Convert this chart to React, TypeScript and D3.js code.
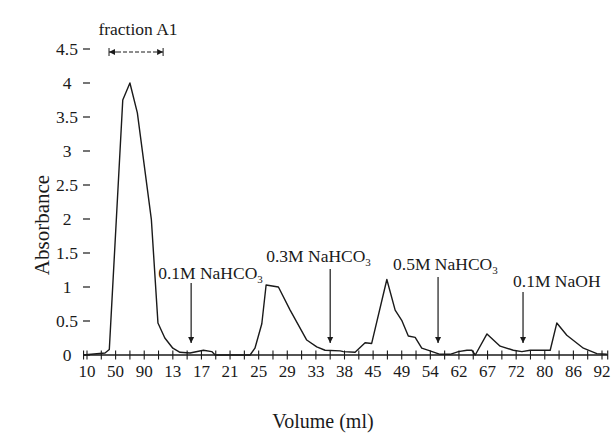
import React from "react";
import * as d3 from "d3";

// x tick labels (as printed on the original figure)
const xLabels = ["10", "50", "90", "13", "17", "21", "25", "29", "33", "38", "45", "49", "54", "62", "67", "72", "80", "86", "92"];
const yTicks = [0, 0.5, 1, 1.5, 2, 2.5, 3, 3.5, 4, 4.5];

// elution profile: position in label units, absorbance
const curveX = [-0.14, 0.63, 0.78, 1.25, 1.5, 1.76, 2.25, 2.48, 2.72, 3.0, 3.25, 3.6, 4.07, 4.36, 4.48, 5.7, 5.87, 6.11, 6.26, 6.69, 7.1, 7.68, 8.03, 8.32, 8.85, 8.96, 9.37, 9.72, 9.95, 10.48, 10.77, 11.0, 11.23, 11.47, 11.7, 11.99, 12.34, 12.69, 12.98, 13.28, 13.45, 13.57, 13.98, 14.44, 14.9, 15.2, 15.49, 16.19, 16.42, 16.77, 17.35, 17.82, 18.17];
const curveY = [0.0, 0.03, 0.08, 3.75, 4.0, 3.56, 1.99, 0.47, 0.25, 0.1, 0.04, 0.03, 0.07, 0.05, 0.0, 0.0, 0.1, 0.46, 1.03, 1.0, 0.66, 0.22, 0.12, 0.07, 0.06, 0.05, 0.04, 0.18, 0.17, 1.11, 0.66, 0.51, 0.28, 0.26, 0.1, 0.06, 0.01, 0.01, 0.05, 0.07, 0.07, 0.0, 0.31, 0.13, 0.07, 0.05, 0.07, 0.07, 0.47, 0.29, 0.1, 0.02, 0.01];

// eluent changes
const eluents = ["0.1M NaHCO", "0.3M NaHCO", "0.5M NaHCO", "0.1M NaOH"];
const eluentSub = ["3", "3", "3", ""];
const eluentAt = [3.64, 8.5, 12.27, 15.24];

const fractionLabel = "fraction A1";
const fractionRange = [0.77, 2.66];

// layout only (text left offset from arrow, text baseline, arrow top)
const eluentLayout = [
  { dx: -33, ty: 279, ay: 283 },
  { dx: -64, ty: 262, ay: 269 },
  { dx: -45, ty: 270, ay: 277 },
  { dx: -10, ty: 287, ay: 292 },
];

const W = 611;
const H = 433;
const ink = "#1a1a1a";
const font = "'Liberation Serif', 'Times New Roman', serif";

export default function App() {
  const x = d3.scaleLinear().domain([0, 18]).range([87, 602]);
  const y = d3.scaleLinear().domain([0, 4.5]).range([355, 49]);
  const pts: [number, number][] = curveX.map((v, i) => [v, curveY[i]]);
  const line = d3
    .line<[number, number]>()
    .x((d) => x(d[0]))
    .y((d) => y(d[1]));
  const halfTicks = d3.range(0, 18.01, 0.5);
  const y0 = y(0);

  return (
    <svg width={W} height={H} style={{ position: "absolute", left: 0, top: 0, background: "#fff" }} fontFamily={font}>
      <defs>
        <marker id="ah" viewBox="0 0 10 10" refX="10" refY="5" markerWidth="6" markerHeight="8" orient="auto" markerUnits="userSpaceOnUse">
          <path d="M0,0 L10,5 L0,10 z" fill={ink} />
        </marker>
      </defs>

      {/* x axis */}
      <line x1={83} x2={608} y1={y0} y2={y0} stroke={ink} strokeWidth={1.3} />
      {halfTicks.concat([-0.12, 18.2]).map((t) => (
        <line key={t} x1={x(t)} x2={x(t)} y1={y0 - 4.5} y2={y0 + 4.5} stroke={ink} strokeWidth={1.1} />
      ))}
      {xLabels.map((l, i) => (
        <text key={i} x={x(i)} y={377} textAnchor="middle" fontSize={17} fill={ink}>
          {l}
        </text>
      ))}

      {/* y ticks */}
      {yTicks.map((t) => (
        <g key={t}>
          <line x1={83} x2={90} y1={y(t)} y2={y(t)} stroke={ink} strokeWidth={1.2} />
          <text x={67} y={y(t)} dy="0.35em" textAnchor="middle" fontSize={17.5} fill={ink}>
            {t}
          </text>
        </g>
      ))}

      {/* axis titles */}
      <text transform="translate(49,225) rotate(-90)" textAnchor="middle" fontSize={21} fill={ink}>
        Absorbance
      </text>
      <text x={323} y={428} textAnchor="middle" fontSize={20} fill={ink}>
        Volume (ml)
      </text>

      {/* profile */}
      <path d={line(pts) || ""} fill="none" stroke={ink} strokeWidth={1.4} strokeLinejoin="round" />

      {/* fraction bracket */}
      <text x={138} y={35} textAnchor="middle" fontSize={17.5} fill={ink}>
        {fractionLabel}
      </text>
      <line x1={x(fractionRange[0])} x2={x(fractionRange[0])} y1={48} y2={56} stroke={ink} strokeWidth={1} />
      <line x1={x(fractionRange[1])} x2={x(fractionRange[1])} y1={48} y2={56} stroke={ink} strokeWidth={1} />
      <line x1={x(fractionRange[0]) + 8} x2={x(fractionRange[0])} y1={52} y2={52} stroke={ink} strokeWidth={1} markerEnd="url(#ah)" />
      <line x1={x(fractionRange[0]) + 8} x2={x(fractionRange[1])} y1={52} y2={52} stroke={ink} strokeWidth={1} strokeDasharray="4,2" markerEnd="url(#ah)" />

      {/* eluent arrows */}
      {eluents.map((e, i) => {
        const ax = x(eluentAt[i]);
        const lay = eluentLayout[i];
        return (
          <g key={e}>
            <text x={ax + lay.dx} y={lay.ty} fontSize={17.5} fill={ink}>
              {e}
              {eluentSub[i] && (
                <tspan fontSize={11} dy={4}>
                  {eluentSub[i]}
                </tspan>
              )}
            </text>
            <line x1={ax} x2={ax} y1={lay.ay} y2={343} stroke={ink} strokeWidth={1.2} markerEnd="url(#ah)" />
          </g>
        );
      })}
    </svg>
  );
}
